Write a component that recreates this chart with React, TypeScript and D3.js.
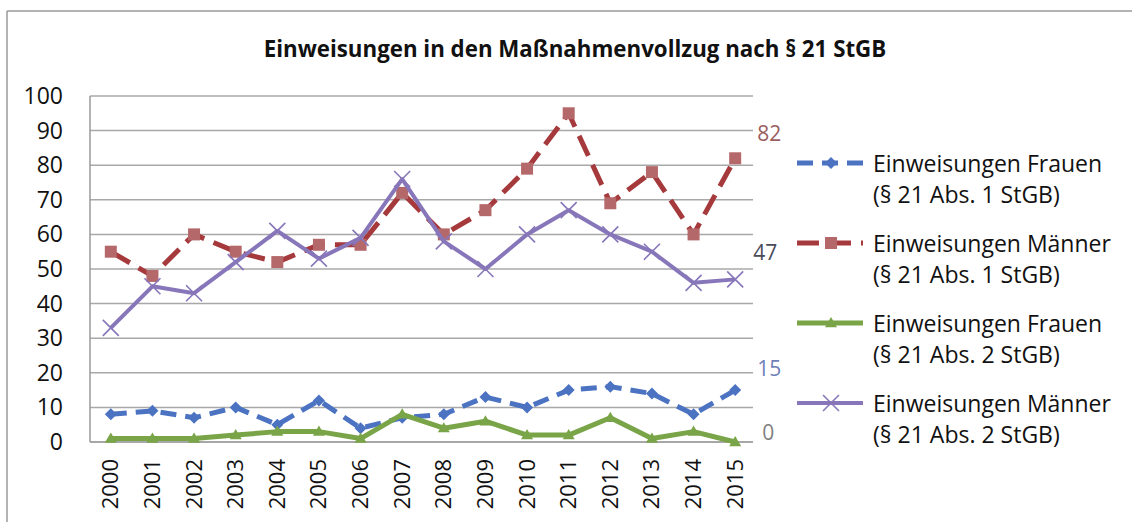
import React from "react";
import * as d3 from "d3";

const years = ["2000","2001","2002","2003","2004","2005","2006","2007","2008","2009","2010","2011","2012","2013","2014","2015"];
const frauenAbs1 = [8, 9, 7, 10, 5, 12, 4, 7, 8, 13, 10, 15, 16, 14, 8, 15];
const maennerAbs1 = [55, 48, 60, 55, 52, 57, 57, 72, 60, 67, 79, 95, 69, 78, 60, 82];
const frauenAbs2 = [1, 1, 1, 2, 3, 3, 1, 8, 4, 6, 2, 2, 7, 1, 3, 0];
const maennerAbs2 = [33, 45, 43, 52, 61, 53, 59, 76, 58, 50, 60, 67, 60, 55, 46, 47];
const yTicks = [0, 10, 20, 30, 40, 50, 60, 70, 80, 90, 100];
const title = "Einweisungen in den Maßnahmenvollzug nach § 21 StGB";

const W = 1132, H = 522;
const FONT = "'Open Sans', sans-serif";

type S = { name1: string; name2: string; values: number[]; color: string; markerColor: string; dash: string | null; marker: string; width: number; labelColor: string; labelDy: number; labelDx: number };

const series: S[] = [
  { name1: "Einweisungen Frauen", name2: "(§ 21 Abs. 1 StGB)", values: frauenAbs1, color: "#4C73C2", markerColor: "#4C73C2", dash: "16,9", marker: "diamond", width: 5, labelColor: "#6F80B8", labelDy: -21, labelDx: 22 },
  { name1: "Einweisungen Männer", name2: "(§ 21 Abs. 1 StGB)", values: maennerAbs1, color: "#A5393B", markerColor: "#B5686A", dash: "22,10", marker: "square", width: 5, labelColor: "#9A5E60", labelDy: -25, labelDx: 22 },
  { name1: "Einweisungen Frauen", name2: "(§ 21 Abs. 2 StGB)", values: frauenAbs2, color: "#79A447", markerColor: "#79A447", dash: null, marker: "triangle", width: 5, labelColor: "#808080", labelDy: -9, labelDx: 27 },
  { name1: "Einweisungen Männer", name2: "(§ 21 Abs. 2 StGB)", values: maennerAbs2, color: "#8776B9", markerColor: "#8776B9", dash: null, marker: "x", width: 4, labelColor: "#4A4A5A", labelDy: -27, labelDx: 18 },
];

function Marker({ type, x, y, color }: { type: string; x: number; y: number; color: string }) {
  if (type === "diamond") {
    const r = 6;
    return <path d={`M${x},${y - r}L${x + r},${y}L${x},${y + r}L${x - r},${y}Z`} fill={color} />;
  }
  if (type === "square") {
    const r = 6;
    return <rect x={x - r} y={y - r} width={2 * r} height={2 * r} fill={color} />;
  }
  if (type === "triangle") {
    const r = 6;
    return <path d={`M${x},${y - r}L${x + r},${y + r * 0.7}L${x - r},${y + r * 0.7}Z`} fill={color} />;
  }
  const r = 8;
  return <path d={`M${x - r},${y - r}L${x + r},${y + r}M${x - r},${y + r}L${x + r},${y - r}`} stroke={color} strokeWidth={1.6} fill="none" />;
}

export default function App() {
  const x = d3.scalePoint<string>().domain(years).range([90, 756]).padding(0.5);
  const y = d3.scaleLinear().domain([0, 100]).range([442, 96]);
  const line = d3.line<number>().x((_, i) => x(years[i]) as number).y((d) => y(d));

  return (
    <svg width={W} height={H} style={{ position: "absolute", left: 0, top: 0, background: "#fff" }} fontFamily={FONT}>
      <rect x={0} y={0} width={W} height={H} fill="#fff" />
      <line x1={7} x2={W} y1={11} y2={11} stroke="#9a9a9a" strokeWidth={1.5} />
      <line x1={7} x2={7} y1={11} y2={H} stroke="#9a9a9a" strokeWidth={1.5} />
      <text x={575} y={57} textAnchor="middle" fontWeight="bold" fontSize={22.3} fill="#111">{title}</text>

      {yTicks.map((t) => (
        <g key={t}>
          <line x1={90} x2={753} y1={y(t)} y2={y(t)} stroke={t === 0 ? "#8a8a8a" : "#a8a8a8"} strokeWidth={1.5} />
          <text x={63} y={y(t)} dy="0.35em" textAnchor="end" fontSize={23} fill="#111">{t}</text>
        </g>
      ))}
      <line x1={90} x2={90} y1={y(100)} y2={y(0)} stroke="#9a9a9a" strokeWidth={1.5} />

      {years.map((yr) => (
        <text key={yr} transform={`translate(${(x(yr) as number) + 7.5},${459}) rotate(-90)`} textAnchor="end" fontSize={22} fill="#111">{yr}</text>
      ))}

      {series.map((s, si) => (
        <g key={si}>
          <path d={line(s.values) || ""} fill="none" stroke={s.color} strokeWidth={s.width} strokeDasharray={s.dash || undefined} strokeLinejoin="round" />
          {s.values.map((v, i) => (
            <Marker key={i} type={s.marker} x={x(years[i]) as number} y={y(v)} color={s.markerColor} />
          ))}
        </g>
      ))}

      {series.map((s, si) => {
        const last = s.values[s.values.length - 1];
        return (
          <text key={si} x={(x(years[years.length - 1]) as number) + s.labelDx} y={y(last) + s.labelDy} dy="0.35em" fontSize={21} fill={s.labelColor}>{last}</text>
        );
      })}

      {series.map((s, si) => {
        const by = 172 + si * 80;
        const sy = by - 9;
        return (
          <g key={si}>
            <line x1={797} x2={863} y1={sy} y2={sy} stroke={s.color} strokeWidth={s.width} strokeDasharray={s.dash || undefined} />
            <Marker type={s.marker} x={831} y={sy} color={s.markerColor} />
            <text x={873} y={by} fontSize={23} fill="#111">{s.name1}</text>
            <text x={873} y={by + 31} fontSize={23} fill="#111">{s.name2}</text>
          </g>
        );
      })}
    </svg>
  );
}
